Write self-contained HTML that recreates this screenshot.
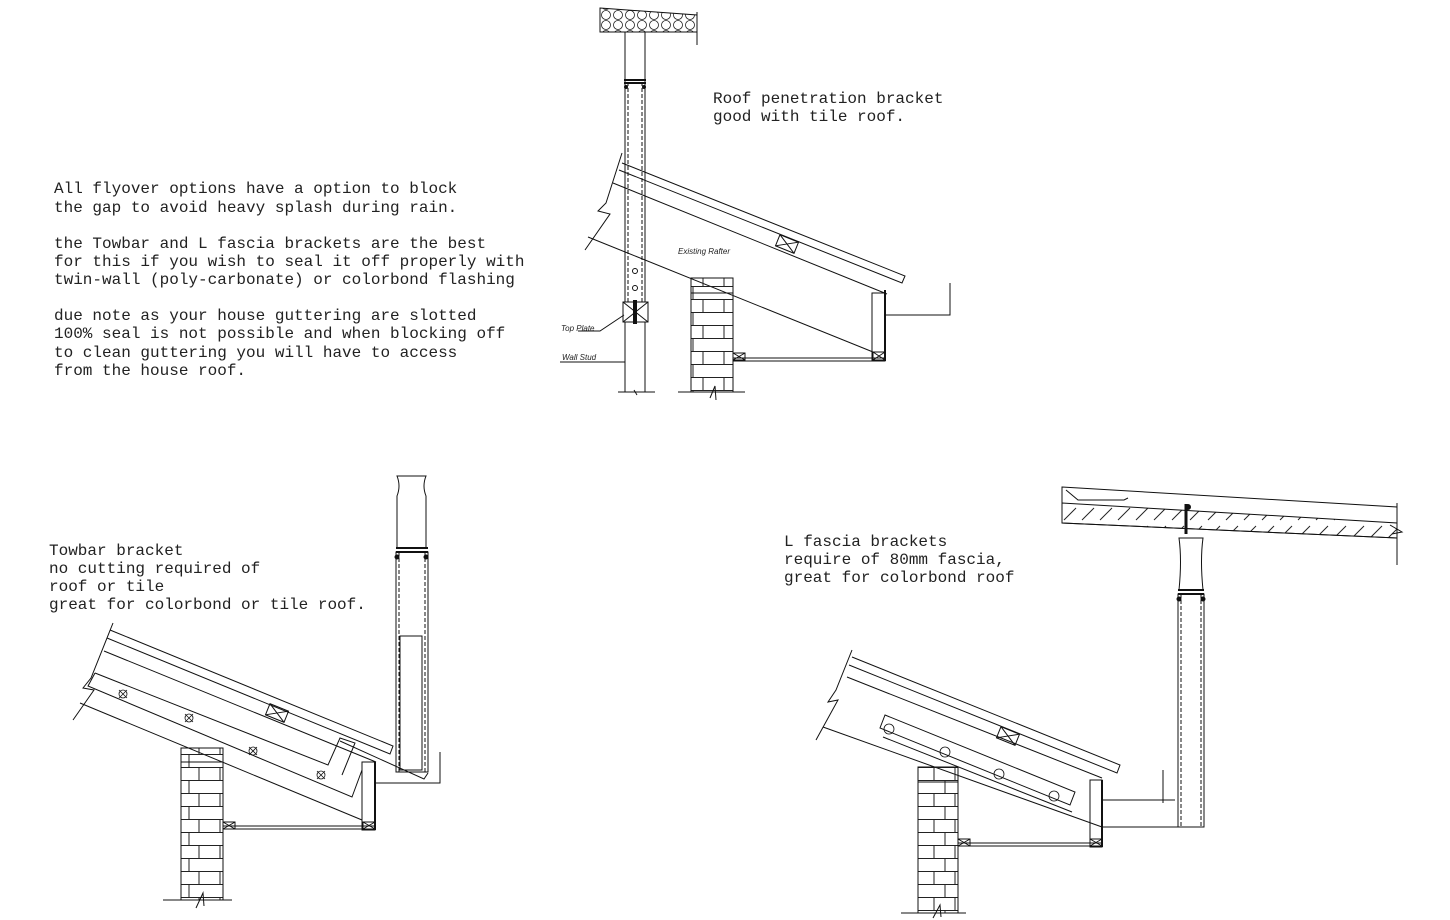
<!DOCTYPE html>
<html><head><meta charset="utf-8"><style>
html,body{margin:0;padding:0;background:#fff;}
svg{display:block;}
.t{font-family:"Liberation Mono",monospace;font-size:16px;fill:#222;}
.s{font-family:"Liberation Sans",sans-serif;font-size:8px;font-style:italic;fill:#222;}
</style></head><body>
<svg width="1450" height="920" viewBox="0 0 1450 920" xmlns="http://www.w3.org/2000/svg" fill="none" stroke="#111" stroke-width="1">
<defs>
<pattern id="brick" x="0" y="0" width="42" height="26" patternUnits="userSpaceOnUse">
<path d="M0 0.5H42M0 13.5H42M21 0V13M10 13V26M31 13V26" stroke="#222" stroke-width="1"/>
</pattern>
<pattern id="hex" width="12" height="10" patternUnits="userSpaceOnUse">
<circle cx="6" cy="5" r="4.5" stroke="#222" stroke-width="0.8"/>
</pattern>
<pattern id="hatch" width="18" height="18" patternUnits="userSpaceOnUse">
<path d="M2 16L14 4" stroke="#222"/>
</pattern>
</defs>

<g stroke="none">
<text class="t" x="54" y="193">All flyover options have a option to block</text>
<text class="t" x="54" y="212">the gap to avoid heavy splash during rain.</text>
<text class="t" x="54" y="248">the Towbar and L fascia brackets are the best</text>
<text class="t" x="54" y="266">for this if you wish to seal it off properly with</text>
<text class="t" x="54" y="284">twin-wall (poly-carbonate) or colorbond flashing</text>
<text class="t" x="54" y="320">due note as your house guttering are slotted</text>
<text class="t" x="54" y="338">100% seal is not possible and when blocking off</text>
<text class="t" x="54" y="357">to clean guttering you will have to access</text>
<text class="t" x="54" y="375">from the house roof.</text>
<text class="t" x="713" y="103">Roof penetration bracket</text>
<text class="t" x="713" y="121">good with tile roof.</text>
<text class="t" x="49" y="555">Towbar bracket</text>
<text class="t" x="49" y="573">no cutting required of</text>
<text class="t" x="49" y="591">roof or tile</text>
<text class="t" x="49" y="609">great for colorbond or tile roof.</text>
<text class="t" x="784" y="546">L fascia brackets</text>
<text class="t" x="784" y="564">require of 80mm fascia,</text>
<text class="t" x="784" y="582">great for colorbond roof</text>
<text class="s" x="678" y="254">Existing Rafter</text>
<text class="s" x="561" y="331">Top Plate</text>
<text class="s" x="562" y="360">Wall Stud</text>
</g>

<!-- ===== TOP DIAGRAM ===== -->
<polygon points="600,8 697,15 697,32 600,32" fill="url(#hex)" stroke="#111"/>
<path d="M697 12V45"/>
<rect x="625" y="32" width="20" height="270"/>
<path d="M628 82V302M642 82V302" stroke-dasharray="4 2"/>
<path d="M624 80H646M624 83H646" stroke-width="2"/>
<circle cx="626" cy="87" r="1.5" fill="#111"/><circle cx="644" cy="87" r="1.5" fill="#111"/>
<circle cx="635" cy="271" r="2.5"/><circle cx="635" cy="288" r="2.5"/>
<rect x="623" y="302" width="25" height="20"/>
<path d="M623 302L648 322M648 302L623 322"/>
<path d="M635 300V324" stroke-width="4"/>
<path d="M625 322V392M645 322V392"/>
<path d="M618 392H655M634 390L637 395"/>
<path d="M578 331H600L624 315M560 362H625"/>
<path d="M622 163L905 276L902 283L619 170"/>
<path d="M613 183L887 294"/>
<path d="M622 153L606 203L598 211L610 214L585 250"/>
<path d="M588 237L873 352"/>
<rect x="777" y="238" width="20" height="12" transform="rotate(22 787 244)"/>
<path d="M777 238L797 250M797 238L777 250" transform="rotate(22 787 244)"/>
<rect x="691" y="278" width="42" height="114" fill="url(#brick)"/>
<path d="M691 293H733M678 392H745M710 398L715 386L716 400"/>
<rect x="872" y="293" width="13" height="68"/>
<path d="M885 290V361" stroke-width="2"/>
<path d="M733 358H885M733 361H885"/>
<rect x="733" y="353" width="12" height="7"/><path d="M733 353L745 360M745 353L733 360"/>
<rect x="873" y="352" width="12" height="8"/><path d="M873 352L885 360M885 352L873 360"/>
<path d="M886 315H950V283"/>

<!-- ===== BOTTOM LEFT ===== -->
<path d="M397 476H426Q422 486 426 496V548H397V496Q401 486 397 476Z"/>
<path d="M396 548H428M396 552H428" stroke-width="2"/>
<circle cx="397" cy="557" r="2" fill="#111"/><circle cx="426" cy="557" r="2" fill="#111"/>
<rect x="396" y="552" width="32" height="220"/>
<path d="M399 552V772M425 552V772" stroke-dasharray="4 2"/>
<rect x="400" y="636" width="22" height="134"/>
<path d="M110 630L393 746L390 754L107 638"/>
<path d="M104 651L376 762"/>
<path d="M113 623L91 678L83 688L94 690L73 720"/>
<path d="M95 673L328 765L340 738L355 743L342 775"/>
<path d="M95 673L88 686L352 797L362 770"/>
<path d="M80 703L362 820"/>
<path d="M340 741L424 779L428 773"/>
<g stroke-width="0.8">
<circle cx="123" cy="694" r="4"/><path d="M119 690l8 8M127 690l-8 8"/>
<circle cx="189" cy="718" r="4"/><path d="M185 714l8 8M193 714l-8 8"/>
<circle cx="253" cy="751" r="4"/><path d="M249 747l8 8M257 747l-8 8"/>
<circle cx="321" cy="775" r="4"/><path d="M317 771l8 8M325 771l-8 8"/>
</g>
<rect x="267" y="707" width="20" height="12" transform="rotate(22 277 713)"/>
<path d="M267 707L287 719M287 707L267 719" transform="rotate(22 277 713)"/>
<rect x="181" y="748" width="42" height="152" fill="url(#brick)"/>
<path d="M181 762H223M163 900H232M196 908L203 893L204 906"/>
<rect x="362" y="762" width="13" height="68"/>
<path d="M375 762V830" stroke-width="2"/>
<path d="M223 826H375M223 829H375"/>
<rect x="223" y="822" width="12" height="7"/><path d="M223 822L235 829M235 822L223 829"/>
<rect x="363" y="822" width="12" height="7"/><path d="M363 822L375 829M375 822L363 829"/>
<path d="M376 783H440V752"/>

<!-- ===== BOTTOM RIGHT ===== -->
<polygon points="1062,487 1397,507 1397,538 1062,523" />
<polygon points="1062,503 1397,523 1397,538 1062,523" fill="url(#hatch)"/>
<path d="M1066 490L1078 500H1124L1128 498"/>
<path d="M1397 503V565M1390 525L1402 532L1392 534"/>
<path d="M1186 504V534" stroke-width="3"/><circle cx="1188" cy="507" r="2.5" fill="#111"/>
<path d="M1179 538H1203Q1200 560 1203 590H1179Q1182 560 1179 538Z"/>
<path d="M1178 590H1204M1178 594H1204" stroke-width="2"/>
<circle cx="1179" cy="599" r="2" fill="#111"/><circle cx="1203" cy="599" r="2" fill="#111"/>
<rect x="1178" y="594" width="26" height="233"/>
<path d="M1181 594V827M1201 594V827" stroke-dasharray="4 2"/>
<path d="M852 657L1120 765L1117 773L849 665"/>
<path d="M847 677L1102 778"/>
<path d="M852 650L836 690L828 702L838 700L816 740"/>
<path d="M823 727L1102 827"/>
<polygon points="885,715 1075,792 1070,805 880,728"/>
<path d="M883 737L1072 812"/>
<path d="M1102 800H1175M1102 827H1204M1163 770V803"/>
<g stroke-width="0.8">
<circle cx="889" cy="729" r="5"/><circle cx="945" cy="752" r="5"/>
<circle cx="999" cy="774" r="5"/><circle cx="1054" cy="796" r="5"/>
</g>
<rect x="998" y="730" width="20" height="12" transform="rotate(22 1008 736)"/>
<path d="M998 730L1018 742M1018 730L998 742" transform="rotate(22 1008 736)"/>
<rect x="918" y="767" width="40" height="146" fill="url(#brick)"/>
<path d="M918 782H958M901 913H966M933 918L940 905L941 917"/>
<rect x="1090" y="780" width="12" height="67"/>
<path d="M1102 780V847" stroke-width="2"/>
<path d="M958 843H1102M958 846H1102"/>
<rect x="958" y="839" width="12" height="7"/><path d="M958 839L970 846M970 839L958 846"/>
<rect x="1090" y="839" width="12" height="7"/><path d="M1090 839L1102 846M1102 839L1090 846"/>
</svg>
</body></html>
